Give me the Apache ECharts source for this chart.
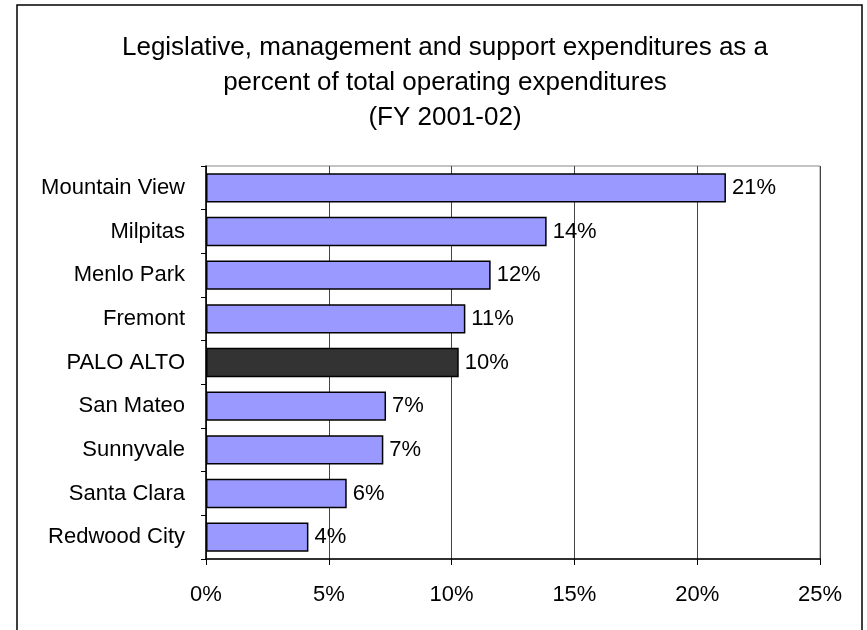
<!DOCTYPE html>
<html>
<head>
<meta charset="utf-8">
<title>Legislative, management and support expenditures</title>
<script src="https://cdn.jsdelivr.net/npm/echarts@6/dist/echarts.min.js"></script>
<style>
  html, body { margin: 0; padding: 0; background: #fff; }
  #chart { width: 867px; height: 630px; }
</style>
</head>
<body>
<div id="chart"></div>
<script>
// Cities, listed top to bottom
const cities = [
  'Mountain View', 'Milpitas', 'Menlo Park', 'Fremont', 'PALO ALTO',
  'San Mateo', 'Sunnyvale', 'Santa Clara', 'Redwood City'
];
// Share of total operating expenditures (%)
const shares = [21.17, 13.87, 11.59, 10.56, 10.29, 7.33, 7.22, 5.73, 4.17];
// City highlighted in dark fill
const highlightCity = 'PALO ALTO';
// X axis ticks (%)
const xTicks = [0, 5, 10, 15, 20, 25];

const FONT = 'Liberation Sans, Arial, sans-serif';
const chart = echarts.init(document.getElementById('chart'), null, { renderer: 'canvas' });

const option = {
  backgroundColor: '#ffffff',
  animation: false,
  title: {
    text: 'Legislative, management and support expenditures as a\npercent of total operating expenditures\n(FY 2001-02)',
    left: 440,
    top: 25,
    textAlign: 'center',
    textStyle: { fontFamily: FONT, fontSize: 26, fontWeight: 'normal', color: '#000', lineHeight: 35 }
  },
  graphic: [{
    type: 'rect',
    shape: { x: 17, y: 5, width: 845, height: 640 },
    style: { fill: 'none', stroke: '#000', lineWidth: 1.5 },
    silent: true,
    z: 100
  }],
  grid: {
    left: 206, right: 47, top: 166, bottom: 71,
    show: true, borderColor: '#888', borderWidth: 1, backgroundColor: 'transparent'
  },
  xAxis: {
    type: 'value',
    min: xTicks[0],
    max: xTicks[xTicks.length - 1],
    interval: xTicks[1] - xTicks[0],
    axisLine: { show: true, lineStyle: { color: '#000', width: 1.5 } },
    axisTick: { show: true, length: 6, lineStyle: { color: '#000', width: 1 } },
    splitLine: { show: true, lineStyle: { color: '#444', width: 1 } },
    axisLabel: {
      fontFamily: FONT, fontSize: 22, color: '#000', margin: 25,
      formatter: v => v + '%'
    }
  },
  yAxis: {
    type: 'category',
    data: cities,
    inverse: true,
    axisLine: { show: true, lineStyle: { color: '#000', width: 1.5 } },
    axisTick: { show: true, length: 5, lineStyle: { color: '#000', width: 1 } },
    splitLine: { show: false },
    axisLabel: { fontFamily: FONT, fontSize: 22, color: '#000', margin: 21 }
  },
  series: [{
    type: 'bar',
    data: shares.map((v, i) => ({
      value: v,
      itemStyle: { color: cities[i] === highlightCity ? '#333333' : '#9999ff' }
    })),
    barCategoryGap: '33%',
    itemStyle: { borderColor: '#000', borderWidth: 1.5 },
    label: {
      show: true,
      position: 'right',
      distance: 6,
      fontFamily: FONT, fontSize: 22, color: '#000',
      formatter: p => Math.round(p.value) + '%'
    }
  }]
};
chart.setOption(option);
</script>
</body>
</html>
